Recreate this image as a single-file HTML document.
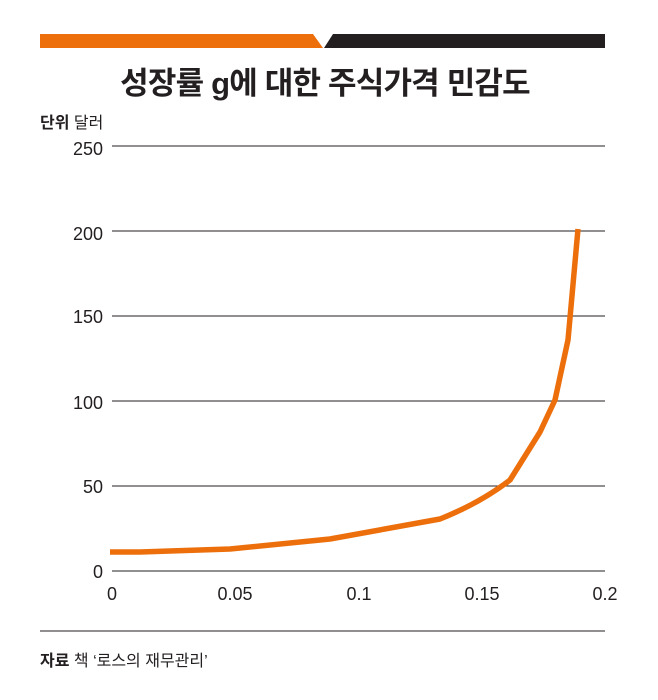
<!DOCTYPE html>
<html><head><meta charset="utf-8"><style>
body{margin:0;background:#fff;}
</style></head><body>
<svg width="658" height="700" xmlns="http://www.w3.org/2000/svg" style="display:block">
<polygon points="40,34 313,34 323,48 40,48" fill="#ec6f0c"/>
<polygon points="333,34 605,34 605,48 324,48" fill="#231f20"/>
<text x="325" y="94" text-anchor="middle" font-family="'Liberation Sans','Noto Sans CJK KR',sans-serif" font-weight="bold" font-size="31" fill="#231f20" letter-spacing="-0.8">성장률 g에 대한 주식가격 민감도</text>
<text x="40" y="128" font-family="'Liberation Sans','Noto Sans CJK KR',sans-serif" font-size="16" fill="#231f20"><tspan font-weight="bold">단위</tspan> 달러</text>
<g stroke="#231f20" stroke-width="1">
<line x1="112" y1="146" x2="605" y2="146"/>
<line x1="112" y1="231" x2="605" y2="231"/>
<line x1="112" y1="316" x2="605" y2="316"/>
<line x1="112" y1="401" x2="605" y2="401"/>
<line x1="112" y1="486" x2="605" y2="486"/>
<line x1="112" y1="571" x2="605" y2="571"/>
<line x1="40" y1="631" x2="605" y2="631"/>
</g>
<g font-family="'Liberation Sans',sans-serif" font-size="18" fill="#231f20" text-anchor="end">
<text x="103" y="155">250</text>
<text x="103" y="240">200</text>
<text x="103" y="323">150</text>
<text x="103" y="409">100</text>
<text x="103" y="493">50</text>
<text x="103" y="578">0</text>
</g>
<g font-family="'Liberation Sans',sans-serif" font-size="18" fill="#231f20" text-anchor="middle">
<text x="112" y="600">0</text>
<text x="235" y="600">0.05</text>
<text x="359" y="600">0.1</text>
<text x="482" y="600">0.15</text>
<text x="605" y="600">0.2</text>
</g>
<path d="M110,552 L140,552 L230,549 L330,539 L440,519 Q480,503 510,480 L540,432 L555,400 L568,340 L578,229" fill="none" stroke="#ec6f0c" stroke-width="5.5" stroke-linejoin="round"/>
<text x="40" y="666" font-family="'Liberation Sans','Noto Sans CJK KR',sans-serif" font-size="16" fill="#231f20"><tspan font-weight="bold">자료</tspan> 책 ‘로스의 재무관리’</text>
</svg>
</body></html>
